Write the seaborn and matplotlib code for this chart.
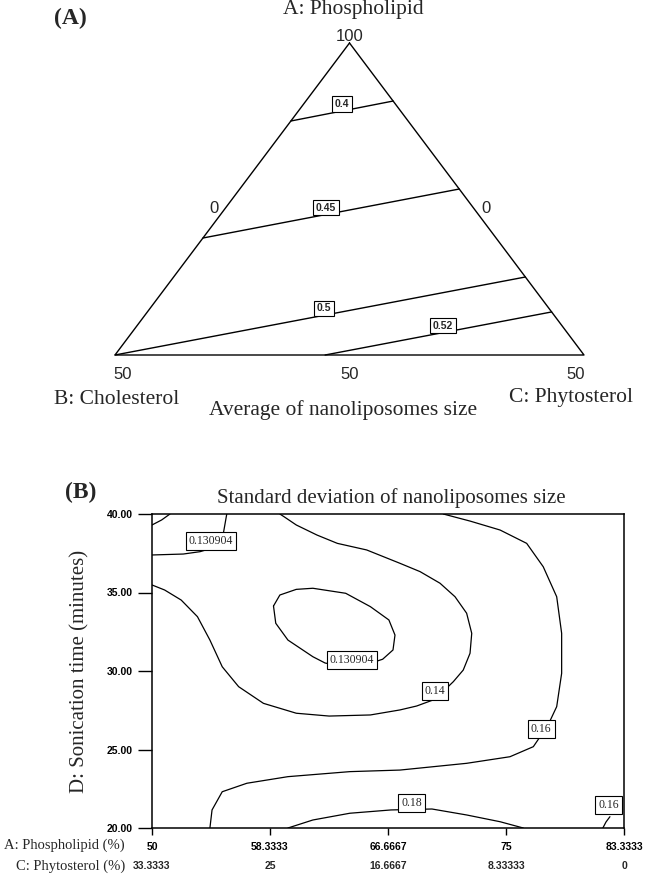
import numpy as np
import pandas as pd
import matplotlib
matplotlib.use("Agg")
import matplotlib.pyplot as plt
import seaborn as sns

sns.set_theme(style="white")
plt.rcParams['font.family'] = ['Liberation Serif', 'DejaVu Serif']

# ---------------- panel A data (A: Phospholipid 50-100, B: Cholesterol 0-50, C: Phytosterol 0-50)
tern_vertices = [(100, 0, 0), (50, 50, 0), (50, 0, 50)]
tern_levels = ['0.4', '0.45', '0.5', '0.52']
tern_start = [(87.5, 12.5, 0.0), (68.75, 31.25, 0.0), (50.0, 50.0, 0.0), (50.0, 27.6, 22.4)]
tern_end = [(90.7, 0.0, 9.3), (76.6, 0.0, 23.4), (62.5, 0.0, 37.5), (56.9, 0.0, 43.1)]
tern_label_frac = [0.5, 0.48, 0.51, 0.52]

# ---------------- panel B data (x: Phospholipid %, y: Sonication time)
corner_x = [50.0, 50.68, 51.27]
corner_y = [39.30, 39.62, 40.0]
c1_x = [55.28, 55.04, 54.22, 53.39, 52.21, 50.0]
c1_y = [40.0, 38.77, 37.82, 37.60, 37.45, 37.39]
c14_x = [50.0, 50.89, 52.06, 53.21, 54.09, 54.96, 56.12, 57.87, 60.19, 62.51, 65.42, 67.51,
         68.69, 69.99, 71.28, 71.98, 72.46, 72.58, 72.22, 71.40, 70.34, 68.93, 67.51, 65.16,
         63.09, 61.65, 60.19, 59.32, 59.03]
c14_y = [35.48, 35.16, 34.52, 33.46, 31.97, 30.27, 29.00, 27.94, 27.31, 27.13, 27.20, 27.52,
         27.77, 28.20, 29.32, 30.06, 31.13, 32.40, 33.68, 34.73, 35.59, 36.33, 36.86, 37.71,
         38.13, 38.66, 39.30, 39.83, 40.0]
inner_x = [58.58, 59.03, 60.19, 61.36, 63.68, 65.42, 66.73, 67.16, 67.02, 66.29, 65.04, 63.63,
           62.22, 61.36, 59.60, 58.74, 58.58]
inner_y = [34.14, 34.84, 35.20, 35.27, 34.95, 34.10, 33.25, 32.29, 31.34, 30.75, 30.38, 30.25,
           30.51, 30.91, 31.97, 33.04, 34.14]
c16_x = [70.57, 72.46, 74.58, 76.46, 77.63, 78.58, 78.93, 78.93, 78.58, 77.97, 76.93, 75.28,
         72.22, 67.51, 63.97, 59.60, 56.70, 54.96, 54.24, 54.09]
c16_y = [40.0, 39.55, 38.98, 38.13, 36.64, 34.73, 32.40, 29.85, 27.73, 26.56, 25.18, 24.54,
         24.12, 23.69, 23.59, 23.27, 22.85, 22.31, 21.15, 20.0]
c18_x = [59.60, 61.36, 63.97, 66.88, 69.77, 72.22, 74.58, 76.22]
c18_y = [20.0, 20.51, 20.94, 21.15, 21.21, 20.83, 20.40, 20.0]
c16b_x = [81.84, 82.06, 82.34]
c16b_y = [20.0, 20.38, 20.72]

sd_label_text = ['0.130904', '0.130904', '0.14', '0.16', '0.18', '0.16']
sd_label_x = [54.17, 64.10, 69.99, 77.49, 68.33, 82.23]
sd_label_y = [38.28, 30.72, 28.73, 26.29, 21.62, 21.45]

a_ticks = [50, 58.3333, 66.6667, 75, 83.3333]
a_tick_labels = ['50', '58.3333', '66.6667', '75', '83.3333']
c_tick_labels = ['33.3333', '25', '16.6667', '8.33333', '0']
t_ticks = [20, 25, 30, 35, 40]
t_tick_labels = ['20.00', '25.00', '30.00', '35.00', '40.00']


def tern_xy(a, b, c):
    ap = (a - 50) / 50.0
    cp = c / 50.0
    return cp + ap / 2.0, ap


fig = plt.figure(figsize=(6.46, 8.74), dpi=100, facecolor='white')
sans = 'Liberation Sans'

# ======================== panel A ========================
axa = fig.add_axes([115 / 646, (874 - 355) / 874, 469 / 646, 312 / 874])
axa.set_xlim(0, 1)
axa.set_ylim(0, 1)
axa.axis('off')

rows = []
for i, v in enumerate(tern_vertices + [tern_vertices[0]]):
    x, y = tern_xy(*v)
    rows.append(dict(seg='frame', order=i, x=x, y=y))
for lev, s, e in zip(tern_levels, tern_start, tern_end):
    for i, p in enumerate([s, e]):
        x, y = tern_xy(*p)
        rows.append(dict(seg=lev, order=i, x=x, y=y))
dfa = pd.DataFrame(rows)
sns.lineplot(data=dfa, x='x', y='y', units='seg', estimator=None, sort=False,
             color='black', lw=1.0, legend=False, ax=axa, clip_on=False)

for lev, s, e, f in zip(tern_levels, tern_start, tern_end, tern_label_frac):
    x0, y0 = tern_xy(*s)
    x1, y1 = tern_xy(*e)
    axa.annotate(lev, xy=(x0 + f * (x1 - x0), y0 + f * (y1 - y0)), xytext=(0, 5),
                 textcoords='offset points', ha='center', va='center', fontsize=7.5,
                 family=sans, fontweight='bold',
                 bbox=dict(boxstyle='square,pad=0.25', fc='white', ec='black', lw=0.8))

axa.text(0.5, 1.022, '100', transform=axa.transAxes, ha='center', va='center', fontsize=12, family=sans)
axa.text(0.211, 0.471, '0', transform=axa.transAxes, ha='center', va='center', fontsize=12, family=sans)
axa.text(0.791, 0.471, '0', transform=axa.transAxes, ha='center', va='center', fontsize=12, family=sans)
for xx in [0.017, 0.5, 0.983]:
    axa.text(xx, -0.064, '50', transform=axa.transAxes, ha='center', va='center', fontsize=12, family=sans)
axa.text(0.508, 1.106, 'A: Phospholipid', transform=axa.transAxes, ha='center', va='center', fontsize=15.5)
axa.text(0.004, -0.144, 'B: Cholesterol', transform=axa.transAxes, ha='center', va='center', fontsize=15.5)
axa.text(0.972, -0.135, 'C: Phytosterol', transform=axa.transAxes, ha='center', va='center', fontsize=15.5)
axa.text(0.486, -0.176, 'Average of nanoliposomes size', transform=axa.transAxes,
         ha='center', va='center', fontsize=15.5)
fig.text(70 / 646, 1 - 18 / 874, '(A)', ha='center', va='center', fontsize=17, fontweight='bold')

# ======================== panel B ========================
axb = fig.add_axes([152 / 646, (874 - 828) / 874, 472 / 646, 314 / 874])
curves = {'corner': (corner_x, corner_y), 'c1': (c1_x, c1_y), 'c14': (c14_x, c14_y),
          'inner': (inner_x, inner_y), 'c16': (c16_x, c16_y), 'c18': (c18_x, c18_y),
          'c16b': (c16b_x, c16b_y)}
rows = []
for name, (xs, ys) in curves.items():
    for i, (x, y) in enumerate(zip(xs, ys)):
        rows.append(dict(curve=name, order=i, a=x, t=y))
dfb = pd.DataFrame(rows)
sns.lineplot(data=dfb, x='a', y='t', units='curve', estimator=None, sort=False,
             color='black', lw=0.9, legend=False, ax=axb)

for txt, x, y in zip(sd_label_text, sd_label_x, sd_label_y):
    axb.text(x, y, txt, ha='center', va='center', fontsize=8.5, zorder=5,
             bbox=dict(boxstyle='square,pad=0.25', fc='white', ec='black', lw=0.8))

axb.set_xlim(50, 83.3333)
axb.set_ylim(20, 40)
for sp in axb.spines.values():
    sp.set_color('black')
    sp.set_linewidth(1.1)
axb.set_xticks(a_ticks)
axb.set_xticklabels(a_tick_labels, family=sans, fontsize=7.5, fontweight='bold')
axb.set_yticks(t_ticks)
axb.set_yticklabels(t_tick_labels, family=sans, fontsize=7.5, fontweight='bold')
axb.tick_params(axis='y', direction='out', length=10, width=1, left=True, pad=4, colors='black')
axb.tick_params(axis='x', direction='out', length=5, width=1, bottom=True, pad=5, colors='black')
axb.set_xlabel('')
axb.set_ylabel('')

for x, lab in zip(a_ticks, c_tick_labels):
    axb.text(x, -0.121, lab, transform=axb.get_xaxis_transform(), ha='center', va='center',
             fontsize=7.5, family=sans, fontweight='bold')
axb.text(-0.057, -0.054, 'A: Phospholipid (%)', transform=axb.transAxes, ha='right', va='center', fontsize=10.5)
axb.text(-0.057, -0.121, 'C: Phytosterol (%)', transform=axb.transAxes, ha='right', va='center', fontsize=10.5)
axb.text(-0.153, 0.5, 'D: Sonication time (minutes)', transform=axb.transAxes, rotation=90,
         ha='center', va='center', fontsize=15)
axb.text(0.506, 1.051, 'Standard deviation of nanoliposomes size', transform=axb.transAxes,
         ha='center', va='center', fontsize=15)
fig.text(81 / 646, 1 - 492 / 874, '(B)', ha='center', va='center', fontsize=17, fontweight='bold')

fig.savefig('out.png', dpi=100, facecolor='white')
